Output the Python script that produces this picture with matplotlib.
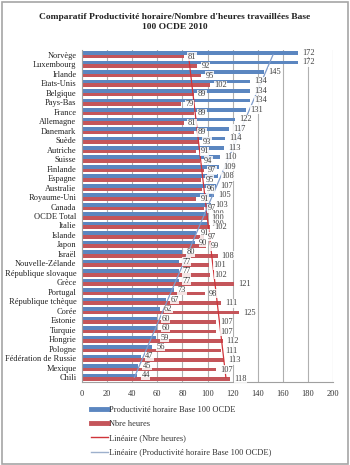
import numpy as np
import matplotlib
matplotlib.use("Agg")
import matplotlib.pyplot as plt
from matplotlib.lines import Line2D
from matplotlib.patches import Rectangle

countries = ["Norvège", "Luxembourg", "Irlande", "Etats-Unis", "Belgique", "Pays-Bas",
             "France", "Allemagne", "Danemark", "Suède", "Autriche", "Suisse", "Finlande",
             "Espagne", "Australie", "Royaume-Uni", "Canada", "OCDE Total", "Italie",
             "Islande", "Japon", "Israël", "Nouvelle-Zélande", "République slovaque",
             "Grèce", "Portugal", "République tchèque", "Corée", "Estonie", "Turquie",
             "Hongrie", "Pologne", "Fédération de Russie", "Mexique", "Chili"]
productivite = [172, 172, 145, 134, 134, 134, 131, 122, 117, 114, 113, 110, 109,
                108, 107, 105, 103, 100, 100, 91, 90, 80, 77, 77,
                77, 73, 67, 62, 60, 60, 59, 56, 47, 45, 44]
heures = [81, 92, 95, 102, 89, 79, 89, 81, 89, 93, 91, 94, 97,
          95, 96, 91, 97, 100, 102, 97, 99, 108, 101, 102,
          121, 98, 111, 125, 107, 107, 112, 111, 113, 107, 118]
xticks = [0, 20, 40, 60, 80, 100, 120, 140, 160, 180, 200]

title = "Comparatif Productivité horaire/Nombre d'heures travaillées Base\n100 OCDE 2010"
lab_prod = "Productivité horaire Base 100 OCDE"
lab_hrs = "Nbre heures"
lab_tr_hrs = "Linéaire (Nbre heures)"
lab_tr_prod = "Linéaire (Productivité horaire Base 100 OCDE)"

plt.rcParams['font.family'] = ['Liberation Serif', 'DejaVu Serif']

W, H = 350, 465
fig = plt.figure(figsize=(W / 100, H / 100), dpi=100)
fig.patch.set_facecolor("white")
fig.add_artist(Rectangle((1.5 / W, 1.5 / H), (W - 4) / W, (H - 4) / H,
                         transform=fig.transFigure, fill=False,
                         edgecolor="#A6A6A6", lw=1.2))

ax = fig.add_axes([82 / W, 1 - 382 / H, 251 / W, 332 / H])

blue = "#5B86C0"
red = "#C4555A"
n = len(countries)
idx = np.arange(n)
bh = 0.38
ax.barh(idx - 0.19, productivite, height=bh, color=blue, zorder=2)
ax.barh(idx + 0.19, heures, height=bh, color=red, zorder=2)

# linear trend lines (Excel style, x = category index)
cp = np.polyfit(idx + 1, productivite, 1)
ch = np.polyfit(idx + 1, heures, 1)
ax.plot(np.polyval(ch, idx + 1), idx, color="#D0343A", lw=0.9, zorder=3)
ax.plot(np.polyval(cp, idx + 1), idx, color="#7F9CCB", lw=0.9, zorder=3)

bb = dict(boxstyle="square,pad=0.05", fc="white", ec="none", alpha=0.85)
for i in range(n):
    ax.annotate(str(productivite[i]), (productivite[i], i - 0.19), xytext=(3, 0),
                textcoords="offset points", va="center", ha="left",
                fontsize=6, color="#404040", bbox=bb, zorder=4)
    ax.annotate(str(heures[i]), (heures[i], i + 0.19), xytext=(3, 0),
                textcoords="offset points", va="center", ha="left",
                fontsize=6, color="#404040", bbox=bb, zorder=4)

ax.set_xlim(0, 200)
ax.set_ylim(n - 0.5, -0.5)
ax.set_xticks(xticks)
ax.set_xticklabels([str(v) for v in xticks], fontsize=6, color="#333333")
ax.set_yticks(idx)
ax.set_yticklabels(countries, fontsize=6, color="#222222")
ax.tick_params(axis="both", length=0, pad=4)
ax.tick_params(axis="x", pad=6)
ax.grid(axis="x", color="#B0B0B0", lw=0.8, zorder=0)
ax.set_axisbelow(True)
for s in ["top", "right"]:
    ax.spines[s].set_visible(False)
for s in ["left", "bottom"]:
    ax.spines[s].set_color("#A0A0A0")
    ax.spines[s].set_linewidth(0.8)

fig.text(0.5, 1 - 22 / H, title, ha="center", va="center", fontsize=6.8,
         fontweight="bold", color="#222222", linespacing=1.3)

handles = [Line2D([], [], color=blue, lw=3.5),
           Line2D([], [], color=red, lw=3.5),
           Line2D([], [], color="#D0343A", lw=1),
           Line2D([], [], color="#9DB0CC", lw=1)]
labels = [lab_prod, lab_hrs, lab_tr_hrs, lab_tr_prod]
fig.legend(handles, labels, loc="upper left", bbox_to_anchor=(85 / W, 1 - 400 / H),
           frameon=False, fontsize=6, handlelength=2.0, handletextpad=0.2,
           labelspacing=0.75, borderpad=0.2, labelcolor="#333333")

fig.savefig("out.png", dpi=100, facecolor="white")
